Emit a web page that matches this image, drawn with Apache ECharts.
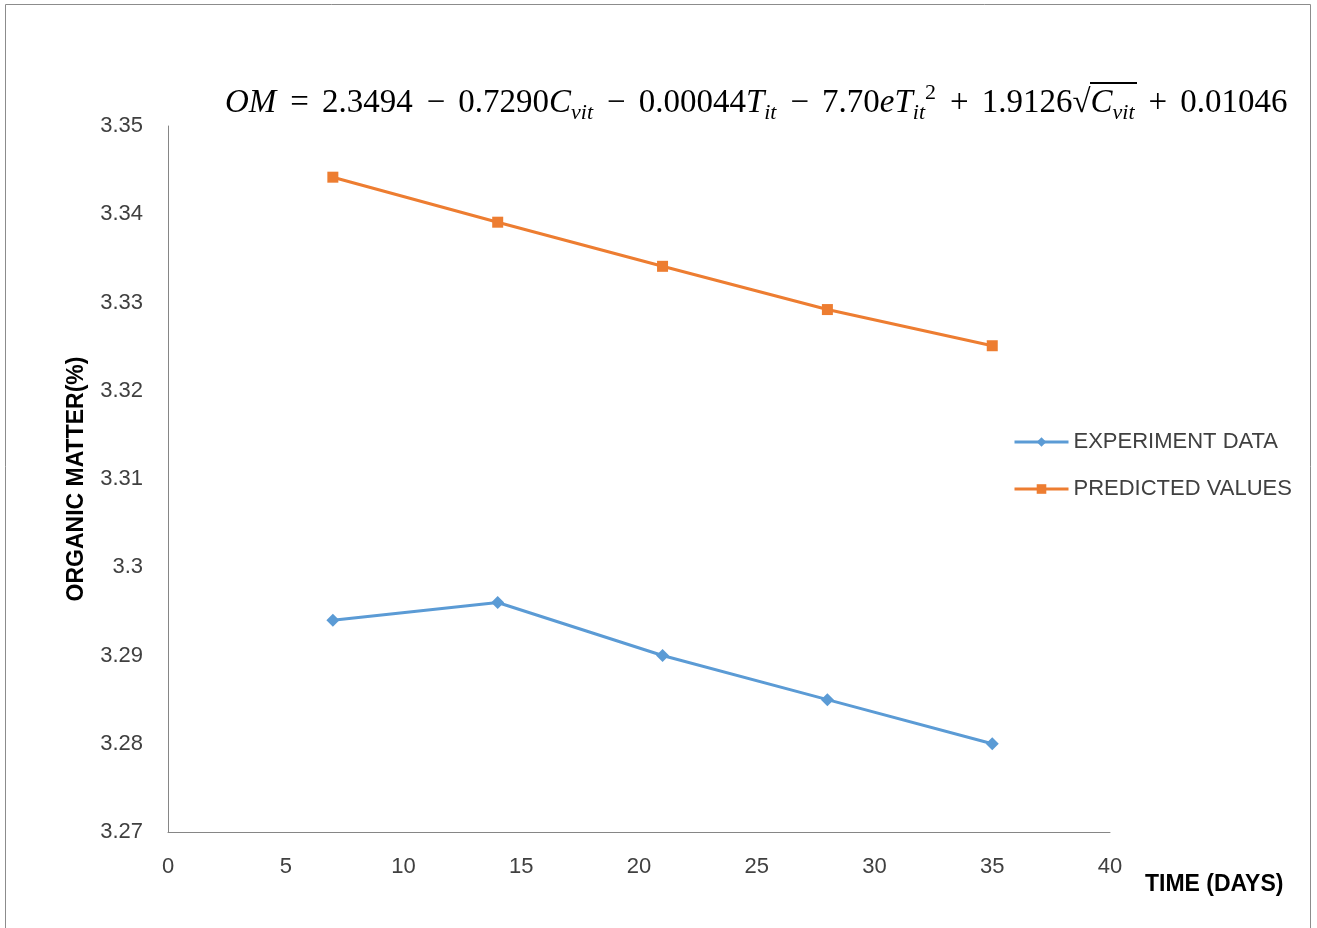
<!DOCTYPE html>
<html>
<head>
<meta charset="utf-8">
<script src="https://cdn.jsdelivr.net/npm/echarts@6/dist/echarts.min.js"></script>
<style>
  html, body { margin: 0; padding: 0; background: #fff; }
  #chart { width: 1317px; height: 928px; }
</style>
</head>
<body>
<div id="chart"></div>
<script>
const days = [7, 14, 21, 28, 35];
const experimentData = [3.294, 3.296, 3.290, 3.285, 3.280];
const predictedValues = [3.3442, 3.3391, 3.3341, 3.3292, 3.3251];

const chart = echarts.init(document.getElementById("chart"));

const textFont = "'Liberation Sans', Arial, sans-serif";
const mathFont = "'Liberation Serif', 'DejaVu Serif', serif";

// equation shown above the plot
const eq =
  "{i|OM}{op|=}{n|2.3494}{op|−}{n|0.7290}{i|C}{sub|vit}{op|−}{n|0.00044}{i|T}{sub|it}" +
  "{op|−}{n|7.70}{i|eT}{sub|it}{sup|2}{op|+}{n|1.9126√}{i|C}{sub|vit}{op|+}{n|0.01046}";

const option = {
  animation: false,
  title: {
    text: eq,
    left: 220,
    top: 79,
    textStyle: {
      fontWeight: "normal",
      rich: {
        n: { fontFamily: mathFont, fontSize: 33, fontWeight: "normal", lineHeight: 38, color: "#000" },
        op: { fontFamily: mathFont, fontSize: 33, fontWeight: "normal", lineHeight: 38, padding: [0, 13, 0, 14], color: "#000" },
        i: { fontFamily: mathFont, fontSize: 33, fontWeight: "normal", fontStyle: "italic", lineHeight: 38, color: "#000" },
        sub: { fontFamily: mathFont, fontSize: 22, fontWeight: "normal", fontStyle: "italic", lineHeight: 20, padding: [20, 0, 0, 0], color: "#000" },
        sup: { fontFamily: mathFont, fontSize: 22, fontWeight: "normal", lineHeight: 20, padding: [0, 0, 20, 0], color: "#000" },
      },
    },
  },
  legend: {
    orient: "vertical",
    left: 1008,
    top: 426,
    itemWidth: 54,
    itemHeight: 12,
    itemGap: 25,
    lineStyle: { width: 3 },
    textStyle: { fontFamily: textFont, fontSize: 22, color: "#404040" },
    data: ["EXPERIMENT DATA", "PREDICTED VALUES"],
  },
  grid: { left: 168, right: 207, top: 126, bottom: 96, containLabel: false, outerBoundsMode: "none" },
  xAxis: {
    type: "value",
    min: 0,
    max: 40,
    interval: 5,
    axisLine: { lineStyle: { color: "#868686", width: 1 } },
    axisTick: { show: false },
    splitLine: { show: false },
    axisLabel: { fontFamily: textFont, fontSize: 22, color: "#404040", margin: 24 },
  },
  yAxis: {
    type: "value",
    min: 3.27,
    max: 3.35,
    interval: 0.01,
    name: "ORGANIC MATTER(%)",
    nameLocation: "middle",
    nameGap: 80,
    nameTextStyle: { fontFamily: textFont, fontSize: 23, fontWeight: "bold", color: "#000" },
    axisLine: { show: true, lineStyle: { color: "#868686", width: 1 } },
    axisTick: { show: false },
    splitLine: { show: false },
    axisLabel: {
      fontFamily: textFont, fontSize: 22, color: "#404040", margin: 25,
      formatter: (v) => String(+v.toFixed(2)),
    },
  },
  series: [
    {
      name: "EXPERIMENT DATA",
      type: "line",
      data: days.map((d, i) => [d, experimentData[i]]),
      color: "#5B9BD5",
      lineStyle: { width: 3 },
      symbol: "diamond",
      symbolSize: 13,
    },
    {
      name: "PREDICTED VALUES",
      type: "line",
      data: days.map((d, i) => [d, predictedValues[i]]),
      color: "#ED7D31",
      lineStyle: { width: 3 },
      symbol: "rect",
      symbolSize: 11,
    },
  ],
  graphic: [
    {
      type: "rect",
      shape: { x: 5.5, y: 4.5, width: 1305, height: 930 },
      style: { fill: null, stroke: "#8c8c8c", lineWidth: 1 },
      silent: true,
    },
    {
      // bar of the square root sign
      type: "line",
      shape: { x1: 1090, y1: 83, x2: 1137, y2: 83 },
      style: { stroke: "#000", lineWidth: 2 },
      silent: true,
    },
    {
      type: "text",
      left: 1145,
      top: 873,
      style: { text: "TIME (DAYS)", font: "bold 23px 'Liberation Sans', Arial, sans-serif", fill: "#000" },
    },
  ],
};

chart.setOption(option);
</script>
</body>
</html>
